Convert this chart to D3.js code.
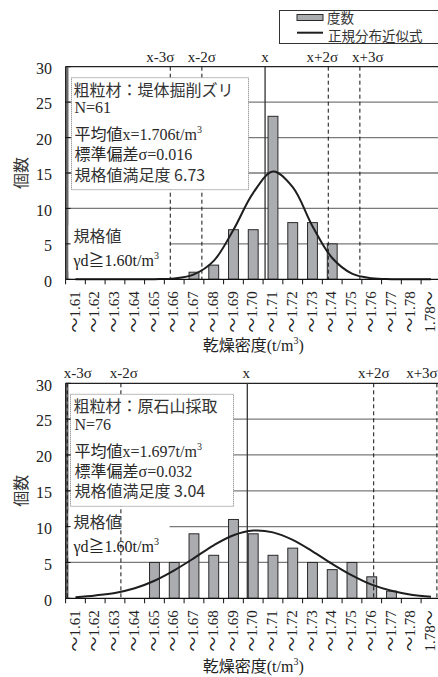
<!DOCTYPE html>
<html><head><meta charset="utf-8">
<script src="https://cdn.jsdelivr.net/npm/d3@7"></script>
<style>body{margin:0;background:#fff}svg{display:block}</style>
</head><body>
<svg id="c" width="438" height="677"></svg>
<script>
// ---------- data ----------
const categories = ["～1.61","～1.62","～1.63","～1.64","～1.65","～1.66","～1.67","～1.68","～1.69","～1.70",
  "～1.71","～1.72","～1.73","～1.74","～1.75","～1.76","～1.77","～1.78","1.78～"];
const countsA = [0,0,0,0,0,0,1,2,7,7,23,8,8,5,0,0,0,0,0];
const curveA  = [0,0,0,0,0.02,0.12,0.7,2.6,7.0,12.2,15.2,13.0,7.5,3.0,0.8,0.15,0.02,0,0];
const countsB = [0,0,0,0,5,5,9,6,11,9,6,7,5,4,5,3,1,0,0];
const curveB  = [0.15,0.4,0.75,1.4,2.45,3.9,5.6,7.4,8.8,9.45,9.2,8.15,6.55,4.8,3.2,1.9,1.05,0.5,0.2];
const yTicks = [0,5,10,15,20,25,30];
const gridValues = [5,10,15,20,25];
const sigmaLabels = ["x-3σ","x-2σ","x","x+2σ","x+3σ"];
const sigmaMult = [-3,-2,0,2,3];
const materials = ["粗粒材：堤体掘削ズリ","粗粒材：原石山採取"];
const nValues = [61,76];
const meanValues = [1.706,1.697];
const sdValues = [0.016,0.032];
const satisfaction = ["6.73","3.04"];
const valueDomain = [1.605,1.795];   // value at left / right edge of category axis
const specLabel = ["規格値","γd≧1.60t/m"];
const legendLabels = ["度数","正規分布近似式"];

// ---------- layout ----------
const L = 65.6, R = 440.85;
const charts = [
  {top:66.7, zero:279.3, counts:countsA, curve:curveA, specAt:-37, titleOff:72, nudge:[-10,0,0,-6,8]},
  {top:383.3, zero:598.3, counts:countsB, curve:curveB, specAt:-70, titleOff:74, nudge:[20,3,-1,0,-15]}
];
const SERIF = "'Liberation Serif','Times New Roman','Noto Sans CJK JP',serif";
const CJK = "'Noto Sans CJK JP','Liberation Serif',sans-serif";
const svg = d3.select("#c");

const x = d3.scaleBand().domain(categories).range([L,R]).paddingInner(0.5).paddingOuter(0.25);
const xv = d3.scaleLinear().domain(valueDomain).range([L,R]);
const step = x.step(), bw = x.bandwidth();

charts.forEach((c,ci)=>{
  const g = svg.append("g");
  const y = d3.scaleLinear().domain([0,30]).range([c.zero,c.top]);
  // gridlines
  g.selectAll(".grid").data(gridValues).join("line")
    .attr("x1",L).attr("x2",R).attr("y1",d=>y(d)).attr("y2",d=>y(d))
    .attr("stroke","#7a7a7a").attr("stroke-width",1.3);
  g.append("line").attr("x1",L).attr("x2",R).attr("y1",y(30)).attr("y2",y(30))
    .attr("stroke","#222").attr("stroke-width",1.2);
  // thick gray left line
  g.append("line").attr("x1",L+1.6).attr("x2",L+1.6).attr("y1",y(30)).attr("y2",y(0))
    .attr("stroke","#6a6a6a").attr("stroke-width",2.6);
  // bars
  g.selectAll(".bar").data(categories.map((k,i)=>({k,v:c.counts[i]})).filter(d=>d.v>0)).join("rect")
    .attr("x",d=>x(d.k)).attr("width",bw).attr("y",d=>y(d.v)).attr("height",d=>y(0)-y(d.v))
    .attr("fill","#aaacb0").attr("stroke","#2a2a2a").attr("stroke-width",1);
  // spec label box
  const sb = c.zero + c.specAt;
  g.append("rect").attr("x",L+3).attr("y",sb-17).attr("width",101).attr("height",46).attr("fill","#fff");
  g.append("text").attr("x",73.5).attr("y",sb).attr("font-family",CJK).attr("font-size",16)
    .attr("fill","#333").text(specLabel[0]);
  const t2 = g.append("text").attr("x",73.5).attr("y",sb+23.5).attr("font-family",SERIF).attr("font-size",16).attr("fill","#222");
  t2.append("tspan").text(specLabel[1]);
  t2.append("tspan").attr("dy",-7).attr("font-size",10).text("3");
  // sigma lines
  const m = meanValues[ci], s = sdValues[ci];
  sigmaMult.forEach((k,j)=>{
    const v = m + k*s;
    const px = Math.max(xv(v), L+1.6);
    const ln = g.append("line").attr("x1",px).attr("x2",px).attr("y1",y(30)).attr("y2",y(0));
    if(k===0) ln.attr("stroke","#333").attr("stroke-width",1.3);
    else ln.attr("stroke","#111").attr("stroke-width",1).attr("stroke-dasharray","4,3");
    g.append("text").attr("x",xv(v)+c.nudge[j]).attr("y",y(30)-5).attr("text-anchor","middle")
      .attr("font-family",SERIF).attr("font-size",15).attr("fill","#222").text(sigmaLabels[j]);
  });
  // normal curve
  const line = d3.line().x((d,i)=>x(categories[i])+bw/2).y(d=>y(d)).curve(d3.curveCatmullRom.alpha(0.5));
  g.append("path").attr("d",line(c.curve)).attr("fill","none").attr("stroke","#1e1e1e").attr("stroke-width",2);
  // info box
  const bx = ci===0?71.5:70.5, by = c.top+11;
  const box = g.append("rect").attr("x",bx).attr("y",by).attr("height",112).attr("fill","#fff")
    .attr("stroke","#777").attr("stroke-width",1).attr("stroke-dasharray","1,1");
  const tg = g.append("g").attr("fill","#2a2a2a");
  const t0 = tg.append("text").attr("x",73.5).attr("y",c.top+29).attr("font-family",CJK).attr("font-size",16).attr("fill","#333").text(materials[ci]);
  tg.append("text").attr("x",74.5).attr("y",c.top+46.5).attr("font-family",SERIF).attr("font-size",16).text("N="+nValues[ci]);
  const t3 = tg.append("text").attr("x",74.5).attr("y",c.top+73.5).attr("font-family",SERIF).attr("font-size",16);
  t3.append("tspan").text("平均値x="+meanValues[ci].toFixed(3)+"t/m");
  t3.append("tspan").attr("dy",-7).attr("font-size",10).text("3");
  tg.append("text").attr("x",74.5).attr("y",c.top+93.5).attr("font-family",SERIF).attr("font-size",16).text("標準偏差σ="+sdValues[ci].toFixed(3));
  tg.append("text").attr("x",74.5).attr("y",c.top+114).attr("font-family",CJK).attr("font-size",16).attr("fill","#333").text("規格値満足度 "+satisfaction[ci]);
  box.attr("width", t0.node().getComputedTextLength()+ (ci===0?17:19));
  // axes
  g.append("line").attr("x1",L).attr("x2",L).attr("y1",y(30)).attr("y2",y(0)).attr("stroke","#111").attr("stroke-width",1);
  g.append("line").attr("x1",L).attr("x2",R).attr("y1",y(0)).attr("y2",y(0)).attr("stroke","#111").attr("stroke-width",1.2);
  g.selectAll(".yt").data(yTicks).join("line").attr("x1",L).attr("x2",L+5).attr("y1",d=>y(d)).attr("y2",d=>y(d)).attr("stroke","#111");
  g.selectAll(".yl").data(yTicks).join("text").attr("x",52).attr("y",d=>y(d)).attr("dy","0.45em")
    .attr("text-anchor","end").attr("font-family",SERIF).attr("font-size",16).attr("fill","#222").text(d=>d);
  g.selectAll(".xt").data(categories).join("line")
    .attr("x1",d=>x(d)+bw/2-step/2).attr("x2",d=>x(d)+bw/2-step/2).attr("y1",y(0)).attr("y2",y(0)+5).attr("stroke","#111");
  g.selectAll(".xl").data(categories).join("text")
    .attr("transform",d=>`translate(${x(d)+bw/2-1},${y(0)+12}) rotate(-90)`)
    .attr("dy","0.35em").attr("text-anchor","end").attr("font-family",SERIF).attr("font-size",15).attr("fill","#222").text(d=>d);
  // titles
  g.append("text").attr("transform",`translate(21,${(y(0)+y(30))/2}) rotate(-90)`).attr("dy","0.35em")
    .attr("text-anchor","middle").attr("font-family",CJK).attr("font-size",16).attr("fill","#333").text("個数");
  const xt = g.append("text").attr("x",(L+R)/2).attr("y",y(0)+c.titleOff).attr("text-anchor","middle")
    .attr("font-family",SERIF).attr("font-size",16).attr("fill","#222");
  xt.append("tspan").text("乾燥密度(t/m");
  xt.append("tspan").attr("dy",-7).attr("font-size",10).text("3");
  xt.append("tspan").attr("dy",7).text(")");
});

// legend
const lg = svg.append("g");
lg.append("rect").attr("x",279.5).attr("y",10.5).attr("width",170).attr("height",33).attr("fill","#fff").attr("stroke","#333");
lg.append("rect").attr("x",297).attr("y",14.5).attr("width",26).attr("height",6).attr("fill","#aaacb0").attr("stroke","#2a2a2a");
lg.append("line").attr("x1",297).attr("x2",323).attr("y1",32.7).attr("y2",32.7).attr("stroke","#1e1e1e").attr("stroke-width",2);
lg.append("text").attr("x",327).attr("y",23).attr("font-family",CJK).attr("font-size",13.5).attr("fill","#333").text(legendLabels[0]);
lg.append("text").attr("x",328).attr("y",41).attr("font-family",CJK).attr("font-size",13.5).attr("fill","#333").text(legendLabels[1]);
</script>
</body></html>
